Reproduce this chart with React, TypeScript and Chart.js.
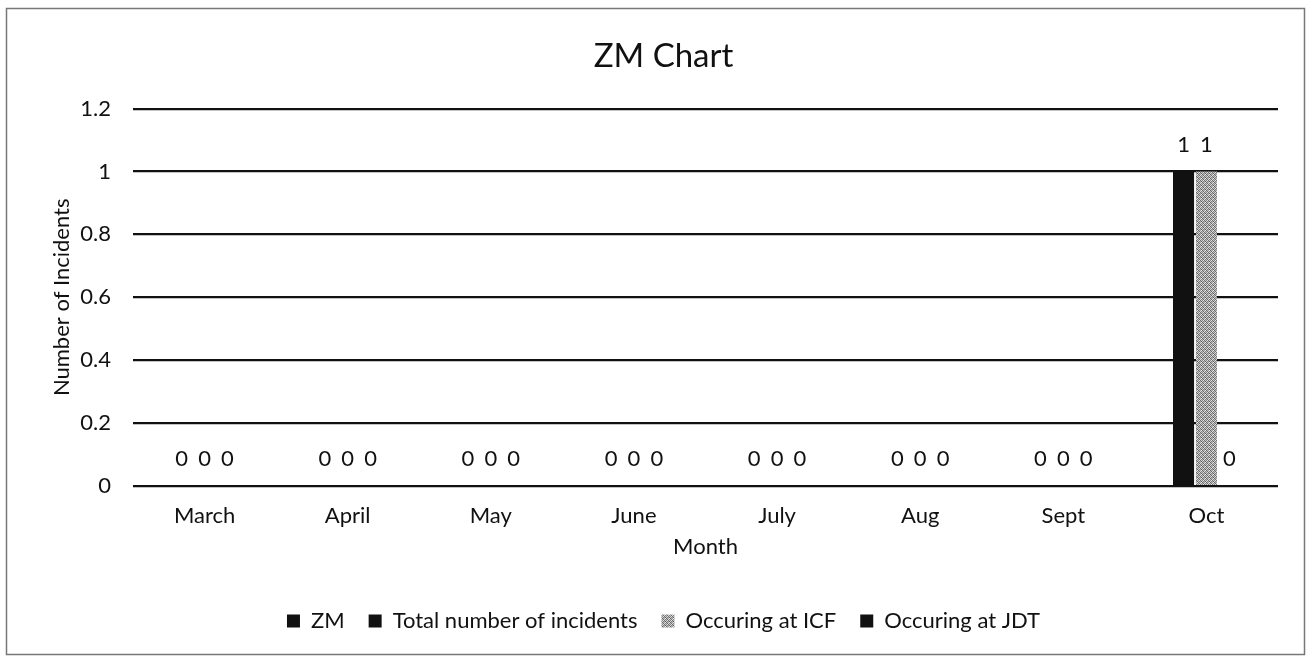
import React, { useEffect, useRef } from "react";
import { Chart, registerables } from "chart.js";

Chart.register(...registerables);

const months = ["March", "April", "May", "June", "July", "Aug", "Sept", "Oct"];
const totalIncidents = [0, 0, 0, 0, 0, 0, 0, 1];
const occurringICF = [0, 0, 0, 0, 0, 0, 0, 1];
const occurringJDT = [0, 0, 0, 0, 0, 0, 0, 0];
const legendNames = ["ZM", "Total number of incidents", "Occuring at ICF", "Occuring at JDT"];
const yTickLabels = ["0", "0.2", "0.4", "0.6", "0.8", "1", "1.2"];

const FONT = "Lato, 'Open Sans', sans-serif";

function makePattern(): CanvasPattern | string {
  const c = document.createElement("canvas");
  c.width = 4;
  c.height = 4;
  const g = c.getContext("2d");
  if (!g) return "#999";
  const shades = [
    "#6e6e6e", "#c8c8c8", "#8a8a8a", "#e0e0e0",
    "#b4b4b4", "#5a5a5a", "#d6d6d6", "#7c7c7c",
    "#9a9a9a", "#eaeaea", "#626262", "#bcbcbc",
    "#dcdcdc", "#848484", "#c0c0c0", "#6a6a6a",
  ];
  for (let i = 0; i < 16; i++) {
    g.fillStyle = shades[i];
    g.fillRect(i % 4, Math.floor(i / 4), 1, 1);
  }
  const p = g.createPattern(c, "repeat");
  return p || "#999";
}

export default function App() {
  const ref = useRef<HTMLCanvasElement | null>(null);

  useEffect(() => {
    document.body.style.margin = "0";
    const canvas = ref.current;
    if (!canvas) return;
    const pattern = makePattern();

    const framePlugin = {
      id: "frame",
      beforeDraw(chart: any) {
        const { ctx, width, height } = chart;
        ctx.save();
        ctx.fillStyle = "#ffffff";
        ctx.fillRect(0, 0, width, height);
        ctx.strokeStyle = "#777777";
        ctx.lineWidth = 1.5;
        ctx.strokeRect(6.5, 8.5, width - 11, height - 15);
        ctx.restore();
      },
    };

    const labelPlugin = {
      id: "valueLabels",
      afterDatasetsDraw(chart: any) {
        const { ctx } = chart;
        ctx.save();
        ctx.font = `22px ${FONT}`;
        ctx.fillStyle = "#111";
        ctx.textAlign = "center";
        ctx.textBaseline = "middle";
        chart.data.datasets.forEach((ds: any, di: number) => {
          const meta = chart.getDatasetMeta(di);
          meta.data.forEach((el: any, i: number) => {
            const v = ds.data[i];
            if (v === null || v === undefined) return;
            ctx.fillText(String(v), el.x, el.y - 27);
          });
        });
        ctx.restore();
      },
    };

    const chart = new Chart(canvas, {
      type: "bar",
      data: {
        labels: months,
        datasets: [
          { label: legendNames[1], data: totalIncidents, backgroundColor: "#111111" },
          { label: legendNames[2], data: occurringICF, backgroundColor: pattern as any },
          { label: legendNames[3], data: occurringJDT, backgroundColor: "#111111" },
        ],
      },
      options: {
        responsive: false,
        animation: false,
        devicePixelRatio: 1,
        datasets: {
          bar: { categoryPercentage: 0.48, barPercentage: 0.92 },
        },
        layout: { padding: { top: 8, left: 49, right: 31, bottom: 19 } },
        plugins: {
          title: {
            display: true,
            text: "ZM Chart",
            color: "#111",
            font: { family: FONT, size: 33, weight: "normal" },
            padding: { top: 29, bottom: 32 },
          },
          tooltip: { enabled: false },
          legend: {
            position: "bottom",
            labels: {
              color: "#111",
              font: { family: FONT, size: 22 },
              boxWidth: 13,
              boxHeight: 13,
              padding: 24,
              generateLabels: (ch: any) => {
                const items = Chart.defaults.plugins.legend.labels.generateLabels(ch);
                const zm = { ...items[0], text: legendNames[0], datasetIndex: -1, fillStyle: "#111111" };
                return [zm, ...items].map((it: any) => ({ ...it, strokeStyle: "rgba(0,0,0,0)", lineWidth: 0 }));
              },
            },
            onClick: () => {},
          },
        },
        scales: {
          x: {
            grid: { display: false, drawTicks: false },
            border: { display: false },
            ticks: { color: "#111", font: { family: FONT, size: 22 }, padding: 17, maxRotation: 0 },
            title: {
              display: true,
              text: "Month",
              color: "#111",
              font: { family: FONT, size: 22 },
              padding: { top: 0, bottom: 26 },
            },
            afterFit: (s: any) => {
              s.height = 100;
            },
          },
          y: {
            min: 0,
            max: 1.2,
            ticks: {
              stepSize: 0.2,
              color: "#111",
              font: { family: FONT, size: 22 },
              padding: 22,
              callback: (_v: any, i: number) => yTickLabels[i],
            },
            grid: { color: "#111", lineWidth: 2.2, drawTicks: false },
            border: { display: false },
            title: {
              display: true,
              text: "Number of Incidents",
              color: "#111",
              font: { family: FONT, size: 22 },
              padding: { top: 0, bottom: 6 },
            },
            afterFit: (s: any) => {
              s.width = 84;
            },
          },
        },
      },
      plugins: [framePlugin, labelPlugin],
    });

    return () => chart.destroy();
  }, []);

  return (
    <div style={{ position: "fixed", left: 0, top: 0, width: 1309, height: 661, background: "#fff" }}>
      <canvas ref={ref} width={1309} height={661} style={{ display: "block", width: 1309, height: 661 }} />
    </div>
  );
}
